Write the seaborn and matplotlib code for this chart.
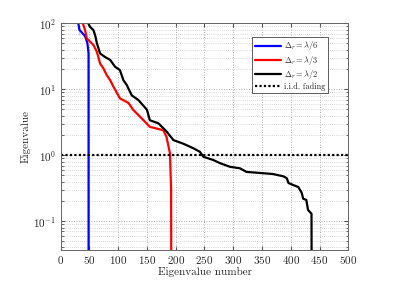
import numpy as np
import pandas as pd
import seaborn as sns
import matplotlib.pyplot as plt
from matplotlib.ticker import LogLocator, NullFormatter, MultipleLocator

# eigenvalue curves (index, eigenvalue)
blue_x = [30, 32.6, 32.6, 42.5, 46.5, 48.5, 48.6]
blue_y = [110, 94, 66, 64, 50, 35, 0.001]

red_x = [37, 42.5, 45.5, 51, 57, 63, 68.6, 74, 80, 86, 91.7, 103, 118, 126, 144, 155,
         178.5, 184, 190, 192, 192.5]
red_y = [110, 79, 59, 53, 47, 37, 24.6, 21, 16.5, 13.8, 11, 7.3, 6.2, 4.9, 3.4, 2.7,
         2.4, 1.9, 1.07, 0.3, 0.001]

black_x = [45.5, 51, 57, 60, 63, 68.6, 77, 86, 94.6, 103, 109, 115, 123.6, 135, 150, 155,
           170, 184, 196, 213, 230.5, 242, 248, 265, 277, 294, 311.6, 323, 346, 369, 387,
           393, 396, 404, 413, 419, 421.5, 427, 430, 436, 436.5]
black_y = [110, 89, 79, 66, 50, 35, 31, 28, 22, 19.6, 13.8, 11.6, 8.1, 6.9, 4.9, 3.4,
           3.05, 2.3, 1.7, 1.5, 1.28, 1.13, 0.95, 0.85, 0.76, 0.67, 0.635, 0.56, 0.54, 0.52,
           0.48, 0.45, 0.38, 0.355, 0.33, 0.27, 0.22, 0.21, 0.148, 0.13, 0.001]

iid_x = [0, 500]
iid_y = [1, 1]

labels = [r'$\Delta_r = \lambda/6$', r'$\Delta_r = \lambda/3$',
          r'$\Delta_r = \lambda/2$', 'i.i.d. fading']

sns.set_style("ticks")
plt.rcParams['font.family'] = ['cmr10', 'DejaVu Serif']
plt.rcParams['mathtext.fontset'] = 'cm'
plt.rcParams['axes.formatter.use_mathtext'] = True

fig = plt.figure(figsize=(3.99, 2.82), dpi=100)
ax = fig.add_axes([0.152, 0.1145, 0.721, 0.8025])

sns.lineplot(x=blue_x, y=blue_y, ax=ax, color='#0000ff', lw=1.6, label=labels[0], sort=False)
sns.lineplot(x=red_x, y=red_y, ax=ax, color='#ff0000', lw=1.6, label=labels[1], sort=False)
sns.lineplot(x=black_x, y=black_y, ax=ax, color='black', lw=1.6, label=labels[2], sort=False)
sns.lineplot(x=iid_x, y=iid_y, ax=ax, color='black', lw=1.6, ls=(0, (1, 1)), label=labels[3])

ax.set_yscale('log')
ax.set_xlim(0, 500)
ax.set_ylim(0.037, 100)
ax.xaxis.set_major_locator(MultipleLocator(50))
ax.yaxis.set_major_locator(LogLocator(base=10))
ax.yaxis.set_minor_locator(LogLocator(base=10, subs=np.arange(2, 10)))
ax.yaxis.set_minor_formatter(NullFormatter())

ax.grid(True, which='major', ls=(0, (1, 2)), color='#999999', lw=0.6)
ax.grid(True, which='minor', axis='y', ls=(0, (1, 2)), color='#b5b5b5', lw=0.5)
ax.tick_params(direction='in', which='both', top=True, right=True, labelsize=8,
               color='#555555', pad=3)
ax.tick_params(which='major', length=3)
ax.tick_params(which='minor', length=1.8)
for s in ax.spines.values():
    s.set_color('#666666')
    s.set_linewidth(0.7)

ax.set_xlabel('Eigenvalue number', fontsize=8, labelpad=1)
ax.set_ylabel('Eigenvalue', fontsize=8, labelpad=2)

leg = ax.legend(loc='upper right', bbox_to_anchor=(0.928, 0.94), fontsize=6,
                handlelength=3.2, handletextpad=0.3, borderpad=0.3, labelspacing=0.15,
                fancybox=False, framealpha=1, edgecolor='#444444', borderaxespad=0)
leg.get_frame().set_linewidth(0.6)

fig.savefig('out.png', dpi=100)
